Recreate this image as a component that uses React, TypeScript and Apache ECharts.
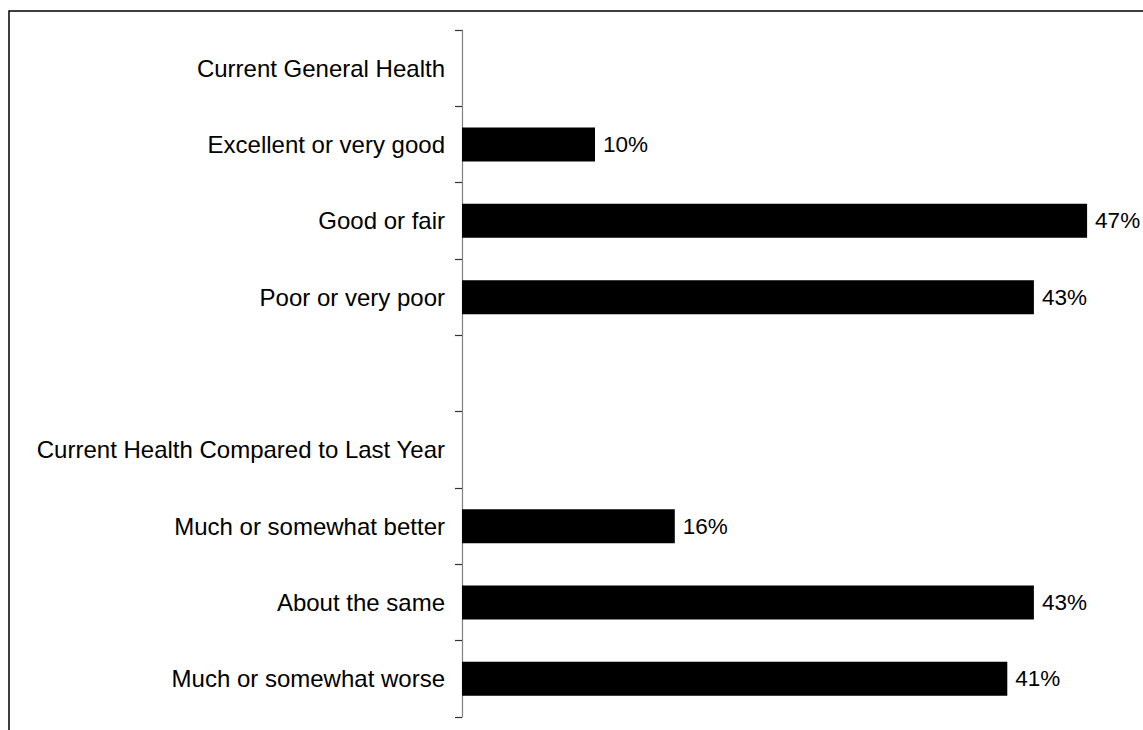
import React, { useEffect, useRef } from "react";
import * as echarts from "echarts";

const categories = [
  "Current General Health",
  "Excellent or very good",
  "Good or fair",
  "Poor or very poor",
  "",
  "Current Health Compared to Last Year",
  "Much or somewhat better",
  "About the same",
  "Much or somewhat worse",
];
const values: (number | null)[] = [null, 10, 47, 43, null, null, 16, 43, 41];

export default function App() {
  const ref = useRef<HTMLDivElement>(null);
  useEffect(() => {
    if (!ref.current) return;
    const chart = echarts.init(ref.current, null, { renderer: "svg" });
    const font = "'Liberation Sans', Arial, sans-serif";
    chart.setOption({
      animation: false,
      backgroundColor: "#ffffff",
      grid: { left: 462, right: 16, top: 30, bottom: 13, containLabel: false },
      xAxis: {
        type: "value",
        min: 0,
        max: 50,
        show: false,
      },
      yAxis: {
        type: "category",
        inverse: true,
        data: categories,
        axisLine: { show: true, lineStyle: { color: "#808080", width: 1.2 } },
        axisTick: { show: true, length: 7, lineStyle: { color: "#333333", width: 1.2 } },
        axisLabel: {
          color: "#000000",
          fontFamily: font,
          fontSize: 24,
          margin: 17,
        },
        splitLine: { show: false },
      },
      series: [
        {
          type: "bar",
          data: values,
          barWidth: 34,
          itemStyle: { color: "#000000" },
          label: {
            show: true,
            position: "right",
            distance: 8,
            formatter: (p: any) => (p.value == null ? "" : p.value + "%"),
            color: "#000000",
            fontFamily: font,
            fontSize: 22.5,
          },
        },
      ],
      graphic: [
        {
          type: "rect",
          shape: { x: 9, y: 11, width: 1200, height: 800 },
          style: { fill: "none", stroke: "#000000", lineWidth: 1.5 },
          silent: true,
        },
      ],
    });
    return () => chart.dispose();
  }, []);
  return (
    <div
      ref={ref}
      style={{ position: "absolute", left: 0, top: 0, width: 1143, height: 730 }}
    />
  );
}
